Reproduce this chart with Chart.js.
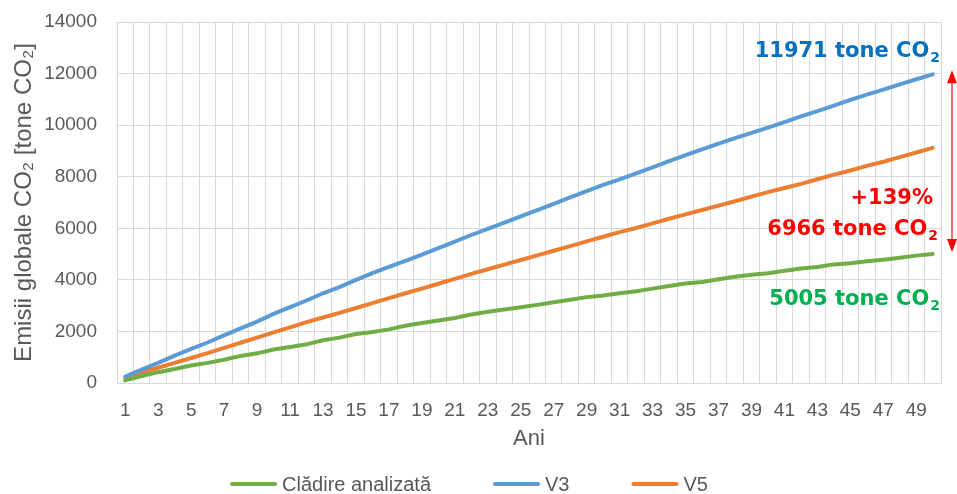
<!DOCTYPE html>
<html>
<head>
<meta charset="utf-8">
<script src="https://cdn.jsdelivr.net/npm/chart.js@4/dist/chart.umd.min.js"></script>
<style>
  html, body { margin: 0; padding: 0; background: #fff; }
  #wrap { width: 957px; height: 494px; position: relative; }
</style>
</head>
<body>
<div id="wrap"><canvas id="chart"></canvas></div>
<script>
// years on the x axis
const years = [
  1, 2, 3, 4, 5, 6, 7, 8, 9, 10, 11, 12, 13, 14, 15, 16, 17, 18, 19, 20,
  21, 22, 23, 24, 25, 26, 27, 28, 29, 30, 31, 32, 33, 34, 35, 36, 37, 38, 39, 40,
  41, 42, 43, 44, 45, 46, 47, 48, 49, 50,
]

// cumulative emissions, tone CO2
const building = [
  100, 270, 420, 540, 680, 780, 900, 1050, 1150, 1300,
  1400, 1500, 1660, 1760, 1900, 1980, 2080, 2220, 2330, 2420,
  2520, 2660, 2760, 2850, 2940, 3030, 3130, 3230, 3330, 3390,
  3480, 3560, 3660, 3760, 3860, 3920, 4020, 4120, 4200, 4260,
  4350, 4440, 4500, 4600, 4640, 4720, 4780, 4860, 4940, 5005,
]
const v3 = [
  250, 520, 780, 1060, 1320, 1570, 1850, 2120, 2380, 2680,
  2940, 3200, 3480, 3720, 4000, 4260, 4500, 4740, 4980, 5230,
  5480, 5740, 5980, 6220, 6460, 6700, 6950, 7200, 7440, 7680,
  7900, 8130, 8360, 8600, 8840, 9060, 9280, 9500, 9700, 9900,
  10120, 10340, 10540, 10760, 10980, 11180, 11380, 11580, 11780, 11971,
]
const v5 = [
  200, 400, 590, 780, 970, 1160, 1360, 1560, 1760, 1960,
  2160, 2360, 2540, 2720, 2910, 3100, 3290, 3480, 3660, 3850,
  4040, 4230, 4410, 4590, 4770, 4950, 5130, 5310, 5490, 5670,
  5850, 6010, 6190, 6370, 6540, 6710, 6880, 7050, 7230, 7400,
  7560, 7720, 7900, 8080, 8240, 8420, 8580, 8760, 8940, 9120,
]

const yTicks = [0, 2000, 4000, 6000, 8000, 10000, 12000, 14000]

const GRAY = '#595959'
const GRID = '#d9d9d9'
const FONT = '"Liberation Sans", Arial, sans-serif'
const BOLD = '"DejaVu Sans", Verdana, sans-serif'

// "xxx tone CO" + subscript 2, right aligned at xRight
function drawCO2(ctx, text, xRight, baseline, color) {
  ctx.save()
  ctx.fillStyle = color
  ctx.textBaseline = 'alphabetic'
  ctx.textAlign = 'left'
  ctx.font = `bold 21px ${BOLD}`
  const main = ctx.measureText(text).width
  ctx.font = `bold 14px ${BOLD}`
  const sub = ctx.measureText('2').width
  const x = xRight - main - sub - 1
  ctx.font = `bold 21px ${BOLD}`
  ctx.fillText(text, x, baseline)
  ctx.font = `bold 14px ${BOLD}`
  ctx.fillText('2', x + main + 1, baseline + 5)
  ctx.restore()
}

const annotations = {
  id: 'annotations',
  afterDraw(chart) {
    const { ctx, chartArea, scales: { y } } = chart
    const top = v3[v3.length - 1]
    const bottom = building[building.length - 1]
    const diff = top - bottom
    const pct = Math.round(diff / bottom * 100)
    const topY = y.getPixelForValue(top)
    const bottomY = y.getPixelForValue(bottom)
    const mid = (topY + bottomY) / 2
    const right = chartArea.right - 1

    drawCO2(ctx, `${top} tone CO`, right, topY - 17, '#0070C0')
    drawCO2(ctx, `${diff} tone CO`, right - 2, mid + 71, '#FF0000')
    drawCO2(ctx, `${bottom} tone CO`, right, bottomY + 51, '#00B050')

    ctx.save()
    ctx.fillStyle = '#FF0000'
    ctx.font = `bold 21px ${BOLD}`
    ctx.textAlign = 'right'
    ctx.fillText(`+${pct}%`, right - 7, mid + 40)

    // double arrow between the two end values
    const ax = chartArea.right + 11
    ctx.strokeStyle = '#FF3B3B'
    ctx.lineWidth = 1.5
    ctx.beginPath()
    ctx.moveTo(ax, topY + 6)
    ctx.lineTo(ax, bottomY - 6)
    ctx.stroke()
    ctx.beginPath()
    ctx.moveTo(ax, topY - 4)
    ctx.lineTo(ax - 5, topY + 9)
    ctx.lineTo(ax + 5, topY + 9)
    ctx.closePath()
    ctx.moveTo(ax, bottomY - 2)
    ctx.lineTo(ax - 5, bottomY - 15)
    ctx.lineTo(ax + 5, bottomY - 15)
    ctx.closePath()
    ctx.fill()
    ctx.restore()
  },
}

// legend drawn by hand so the item spacing matches
const bottomLegend = {
  id: 'bottomLegend',
  afterDraw(chart) {
    const { ctx } = chart
    const lineLen = 47
    const gap = 5
    const itemGap = 62
    const y = 484
    ctx.save()
    ctx.font = `20px ${FONT}`
    const items = chart.data.datasets.map((ds) => ({
      label: ds.label,
      color: ds.borderColor,
      width: lineLen + gap + ctx.measureText(ds.label).width,
    }))
    const total = items.reduce((s, it) => s + it.width, 0) + itemGap * (items.length - 1)
    let x = 469 - total / 2
    items.forEach((it) => {
      ctx.strokeStyle = it.color
      ctx.lineWidth = 4
      ctx.lineCap = 'round'
      ctx.beginPath()
      ctx.moveTo(x + 2, y)
      ctx.lineTo(x + lineLen - 2, y)
      ctx.stroke()
      ctx.fillStyle = GRAY
      ctx.textBaseline = 'middle'
      ctx.fillText(it.label, x + lineLen + gap, y + 1)
      x += it.width + itemGap
    })
    ctx.restore()
  },
}

new Chart(document.getElementById('chart'), {
  type: 'line',
  data: {
    labels: years,
    datasets: [
      { label: 'Clădire analizată', data: building, borderColor: '#70AD47', backgroundColor: '#70AD47' },
      { label: 'V3', data: v3, borderColor: '#5B9BD5', backgroundColor: '#5B9BD5' },
      { label: 'V5', data: v5, borderColor: '#ED7D31', backgroundColor: '#ED7D31' },
    ],
  },
  options: {
    responsive: true,
    maintainAspectRatio: false,
    animation: false,
    layout: { padding: { left: 10, right: 16, top: 22, bottom: 40 } },
    elements: {
      point: { radius: 0 },
      line: { borderWidth: 4, tension: 0, borderCapStyle: 'round' },
    },
    plugins: {
      legend: { display: false },
      tooltip: { enabled: false },
    },
    scales: {
      x: {
        offset: true,
        afterFit: (scale) => {
          scale.height = 71
          scale.paddingLeft = 0
          scale.paddingRight = 0
        },
        grid: { color: GRID, offset: true, drawTicks: false },
        border: { color: GRID },
        ticks: {
          color: GRAY,
          font: { family: FONT, size: 19 },
          padding: 16,
          autoSkip: false,
          maxRotation: 0,
          callback: (val, i) => (i % 2 === 0 ? years[i] : ''),
        },
        title: {
          display: true,
          text: 'Ani',
          color: GRAY,
          font: { family: FONT, size: 22 },
          padding: { top: 2, bottom: 2 },
        },
      },
      y: {
        min: yTicks[0],
        max: yTicks[yTicks.length - 1],
        afterBuildTicks: (scale) => {
          scale.ticks = yTicks.map((v) => ({ value: v }))
        },
        afterFit: (scale) => {
          scale.width = 107
          scale.paddingTop = 0
          scale.paddingBottom = 0
        },
        grid: { color: GRID, drawTicks: false },
        border: { color: GRID },
        ticks: {
          color: GRAY,
          font: { family: FONT, size: 19 },
          padding: 20,
          callback: (val) => String(val),
        },
        title: {
          display: true,
          text: 'Emisii globale CO₂ [tone CO₂]',
          color: GRAY,
          font: { family: FONT, size: 24 },
          padding: { top: 0, bottom: 0 },
        },
      },
    },
  },
  plugins: [annotations, bottomLegend],
})
</script>
</body>
</html>
